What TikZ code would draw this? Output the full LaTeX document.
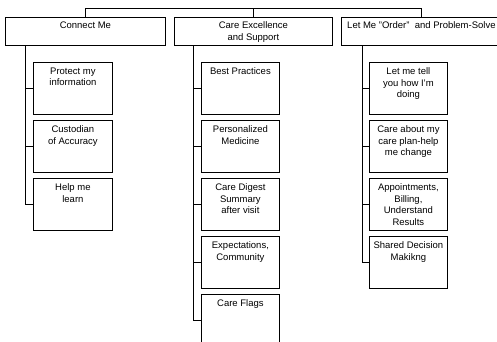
\documentclass[tikz,border=0pt]{standalone}
\usepackage{fontspec}
\setmainfont{Liberation Sans}
\usetikzlibrary{calc}
\tikzset{
  box/.style={draw, line width=0.8pt, inner sep=0pt, anchor=north west, minimum width=78pt, minimum height=52pt},
  topbox/.style={box, minimum width=160pt, minimum height=28pt},
  lbl/.style={anchor=north, yshift=-4.5pt, align=center, inner sep=0pt, font=\fontsize{9.5}{11.5}\selectfont},
  conn/.style={line width=0.8pt}
}
\begin{document}
\begin{tikzpicture}[x=1pt,y=-1pt]
\useasboundingbox (0,0) rectangle (497,341);
\clip (0,0) rectangle (497,341);
% top level
\node[topbox] (t1) at (5,17) {};
\node[topbox, minimum width=158pt] (t2) at (174,17) {};
\node[topbox] (t3) at (341,17) {};
\node[lbl] (t1l) at (t1.north) {Connect Me};
\node[lbl] (t2l) at (t2.north) {Care Excellence\\and Support};
\node[lbl] (t3l) at (t3.north) {Let Me "Order"\ \ and Problem-Solve};
\coordinate (bus) at (0,8);
\draw[conn] (t1.north) -- (t1.north |- bus) -| (t3.north);
\draw[conn] (t2.north) -- (t2.north |- bus);
% column 1
\node[box, minimum width=79pt] (a1) at (33,62) {};
\node[box, minimum width=79pt] (a2) at (33,120) {};
\node[box, minimum width=79pt] (a3) at (33,178) {};
\node[lbl, yshift=-1pt] (a1l) at (a1.north) {Protect my\\information};
\node[lbl, yshift=-1pt] (a2l) at (a2.north) {Custodian\\of Accuracy};
\node[lbl, yshift=-1pt] (a3l) at (a3.north) {Help me\\learn};
\coordinate (r1) at ($(t1.south west)+(20,0)$);
\draw[conn] (r1) |- (a1.west);
\draw[conn] (r1) |- (a2.west);
\draw[conn] (r1) |- (a3.west);
% column 2
\node[box] (b1) at (201,62) {};
\node[box] (b2) at (201,120) {};
\node[box] (b3) at (201,178) {};
\node[box] (b4) at (201,236) {};
\node[box] (b5) at (201,294) {};
\node[lbl, yshift=-1pt] (b1l) at (b1.north) {Best Practices};
\node[lbl, yshift=-1pt] (b2l) at (b2.north) {Personalized\\Medicine};
\node[lbl, yshift=-1pt] (b3l) at (b3.north) {Care Digest\\Summary\\after visit};
\node[lbl, yshift=-1pt] (b4l) at (b4.north) {Expectations,\\Community};
\node[lbl, yshift=-1pt] (b5l) at (b5.north) {Care Flags};
\coordinate (r2) at ($(t2.south west)+(19,0)$);
\draw[conn] (r2) |- (b1.west);
\draw[conn] (r2) |- (b2.west);
\draw[conn] (r2) |- (b3.west);
\draw[conn] (r2) |- (b4.west);
\draw[conn] (r2) |- (b5.west);
% column 3
\node[box] (c1) at (369,62) {};
\node[box] (c2) at (369,120) {};
\node[box] (c3) at (369,178) {};
\node[box] (c4) at (369,236) {};
\node[lbl, yshift=-1pt] (c1l) at (c1.north) {Let me tell\\you how I'm\\doing};
\node[lbl, yshift=-1pt] (c2l) at (c2.north) {Care about my\\care plan-help\\me change};
\node[lbl, yshift=-1pt] (c3l) at (c3.north) {Appointments,\\Billing,\\Understand\\Results};
\node[lbl, yshift=-1pt] (c4l) at (c4.north) {Shared Decision\\Makikng};
\coordinate (r3) at ($(t3.south west)+(21,0)$);
\draw[conn] (r3) |- (c1.west);
\draw[conn] (r3) |- (c2.west);
\draw[conn] (r3) |- (c3.west);
\draw[conn] (r3) |- (c4.west);
\end{tikzpicture}
\end{document}
